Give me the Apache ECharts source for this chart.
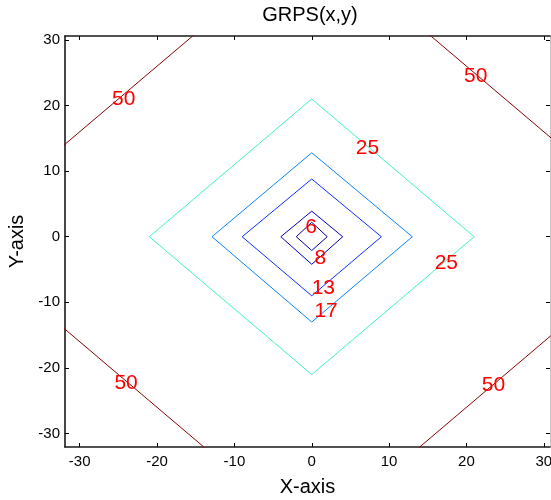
<!DOCTYPE html>
<html>
<head>
<meta charset="utf-8">
<script src="https://cdn.jsdelivr.net/npm/echarts@6/dist/echarts.min.js"></script>
<style>
html,body{margin:0;padding:0;background:#fff;}
#chart{width:551px;height:500px;}
</style>
</head>
<body>
<div id="chart"></div>
<script>
// ---- data ----
const xTicks = [-30, -20, -10, 0, 10, 20, 30];
const yTicks = [-30, -20, -10, 0, 10, 20, 30];
const levels = [6, 8, 13, 17, 25, 50];
const levelColors = ['#00008f', '#0000b8', '#0a30ff', '#0a84ff', '#3cf5c8', '#8a0000'];
const contour6  = [[-2, 0], [0, 2.2], [2, 0], [0, -2.1], [-2, 0]];
const contour8  = [[-4, 0], [0, 3.9], [4, 0], [0, -4.2], [-4, 0]];
const contour13 = [[-9, 0], [0, 8.8], [9, 0], [0, -9], [-9, 0]];
const contour17 = [[-12.9, 0], [0, 12.8], [13, 0], [0, -13], [-12.9, 0]];
const contour25 = [[-21, 0], [0, 21], [21, 0], [0, -21], [-21, 0]];
const contour50 = [[-46, 0], [0, 46], [46, 0], [0, -46], [-46, 0]];
const contours = [contour6, contour8, contour13, contour17, contour25, contour50];
const contourLabels = [
  [-0.1, 1.5, '6'],
  [1.1, -3.3, '8'],
  [1.5, -7.9, '13'],
  [1.85, -11.4, '17'],
  [7.2, 13.5, '25'],
  [17.4, -4.0, '25'],
  [-24.3, 20.9, '50'],
  [21.2, 24.5, '50'],
  [-24.0, -22.35, '50'],
  [23.5, -22.6, '50']
];
const xRange = [-31.9, 30.8];
const yRange = [-32.05, 30.6];

// ---- chart ----
const FONT = 'Liberation Sans, Arial, Helvetica, sans-serif';
const chart = echarts.init(document.getElementById('chart'), null, {renderer: 'canvas'});

function axisCommon(ticks, showLabel) {
  return {
    type: 'value',
    axisLine: {show: true, onZero: false, lineStyle: {color: '#1a1a1a', width: 1.6}},
    axisTick: {show: true, inside: true, length: 4, customValues: ticks, lineStyle: {color: '#000', width: 1}},
    axisLabel: {show: showLabel, customValues: ticks, color: '#000', fontSize: 15, fontFamily: FONT},
    splitLine: {show: false}
  };
}

const series = contours.map((pts, i) => ({
  type: 'line',
  name: 'level ' + levels[i],
  data: pts,
  xAxisIndex: 0,
  yAxisIndex: 0,
  showSymbol: false,
  symbol: 'none',
  clip: true,
  smooth: false,
  lineStyle: {color: levelColors[i], width: 1},
  silent: true,
  z: 2
}));

series.push({
  type: 'scatter',
  data: contourLabels,
  xAxisIndex: 0,
  yAxisIndex: 0,
  symbol: 'circle',
  symbolSize: 1,
  itemStyle: {color: 'rgba(0,0,0,0)'},
  label: {
    show: true,
    position: 'inside',
    offset: [0, 1],
    formatter: p => p.value[2],
    color: '#ff0000',
    opacity: 1,
    textBorderWidth: 0,
    textBorderColor: 'transparent',
    fontSize: 21,
    fontFamily: FONT
  },
  labelLayout: {hideOverlap: false},
  silent: true,
  z: 5
});

const rightAxis = axisCommon(yTicks, false);
rightAxis.axisLine.lineStyle = {color: '#c8c8c8', width: 1};

chart.setOption({
  animation: false,
  backgroundColor: '#ffffff',
  grid: {left: 65, right: 1, top: 36, bottom: 53, containLabel: false, outerBoundsMode: 'none'},
  graphic: [{
    type: 'text',
    x: 310,
    y: 15,
    style: {text: 'GRPS(x,y)', fill: '#000', font: '20px ' + FONT, textAlign: 'center', textVerticalAlign: 'middle'}
  }],
  xAxis: [
    Object.assign(axisCommon(xTicks, true), {
      position: 'bottom', min: xRange[0], max: xRange[1],
      name: 'X-axis', nameLocation: 'middle', nameGap: 30,
      nameTextStyle: {color: '#000', fontSize: 20, fontFamily: FONT},
      axisLabel: {show: true, customValues: xTicks, color: '#000', fontSize: 15, fontFamily: FONT, margin: 7}
    }),
    Object.assign(axisCommon(xTicks, false), {position: 'top', min: xRange[0], max: xRange[1]})
  ],
  yAxis: [
    Object.assign(axisCommon(yTicks, true), {
      position: 'left', min: yRange[0], max: yRange[1],
      name: 'Y-axis', nameLocation: 'middle', nameGap: 35,
      nameTextStyle: {color: '#000', fontSize: 20, fontFamily: FONT},
      axisLabel: {show: true, customValues: yTicks, color: '#000', fontSize: 15, fontFamily: FONT, margin: 5}
    }),
    Object.assign(rightAxis, {position: 'right', min: yRange[0], max: yRange[1]})
  ],
  series: series
});
</script>
</body>
</html>
